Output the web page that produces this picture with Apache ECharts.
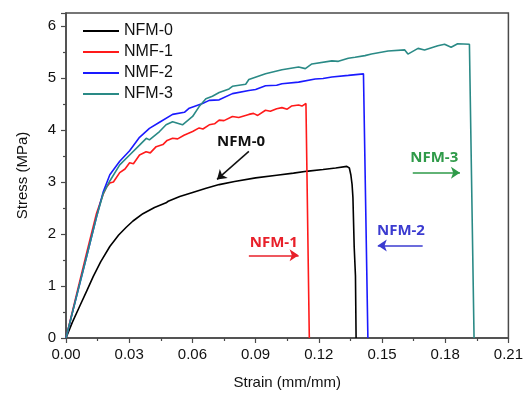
<!DOCTYPE html>
<html>
<head>
<meta charset="utf-8">
<script src="https://cdn.jsdelivr.net/npm/echarts@6/dist/echarts.min.js"></script>
<style>
    html, body { margin: 0; padding: 0; background: #fff; }
    #chart { width: 526px; height: 395px; }
</style>
</head>
<body>
<div id="chart"></div>
<script>
// stress-strain curves, [strain, stress]
var seriesNames = ['NFM-0', 'NMF-1', 'NMF-2', 'NFM-3'];
var seriesColors = ['#000000', '#ff1a1a', '#1a1aff', '#2a8a86'];

var nfm0 = [
    [0, 0], [0.003, 0.3], [0.0066, 0.62], [0.0098, 0.9], [0.0129, 1.18], [0.0165, 1.47],
    [0.0208, 1.76], [0.025, 1.98], [0.0286, 2.13], [0.0318, 2.25], [0.0365, 2.39], [0.042, 2.51],
    [0.0475, 2.6], [0.0485, 2.63], [0.054, 2.72], [0.0601, 2.8], [0.0665, 2.88], [0.0727, 2.95],
    [0.08, 3.01], [0.09, 3.08], [0.1, 3.13], [0.108, 3.17], [0.115, 3.21], [0.122, 3.24],
    [0.128, 3.27], [0.1333, 3.3], [0.1345, 3.27], [0.1352, 3.14], [0.1358, 2.95], [0.1362, 2.7],
    [0.1368, 1.75], [0.1374, 1.2], [0.1377, 0]
];
var nmf1 = [
    [0, 0], [0.005, 0.84], [0.01, 1.67], [0.0145, 2.4], [0.0176, 2.76], [0.0192, 2.9],
    [0.0208, 2.98], [0.0225, 3.0], [0.0255, 3.18], [0.028, 3.25], [0.0302, 3.37], [0.032, 3.35],
    [0.0349, 3.52], [0.038, 3.58], [0.04, 3.56], [0.0428, 3.68], [0.046, 3.72], [0.048, 3.8],
    [0.0506, 3.84], [0.053, 3.83], [0.056, 3.9], [0.0601, 3.97], [0.0632, 4.04], [0.065, 4.02],
    [0.068, 4.1], [0.0705, 4.12], [0.0727, 4.19], [0.075, 4.18], [0.079, 4.26], [0.082, 4.24],
    [0.0868, 4.3], [0.089, 4.32], [0.091, 4.28], [0.0947, 4.38], [0.097, 4.36], [0.1, 4.41],
    [0.1025, 4.43], [0.105, 4.4], [0.107, 4.46], [0.1104, 4.48], [0.112, 4.46], [0.1139, 4.51],
    [0.1155, 0]
];
var nmf2 = [
    [0, 0], [0.005, 0.8], [0.01, 1.6], [0.0145, 2.33], [0.0176, 2.8], [0.0208, 3.14],
    [0.0255, 3.4], [0.0302, 3.6], [0.0349, 3.86], [0.0396, 4.03], [0.0444, 4.15], [0.0506, 4.3],
    [0.0562, 4.34], [0.0585, 4.42], [0.0648, 4.51], [0.068, 4.57], [0.0727, 4.58], [0.079, 4.7],
    [0.0868, 4.76], [0.09, 4.78], [0.0947, 4.85], [0.1, 4.86], [0.1025, 4.89], [0.1104, 4.92],
    [0.1183, 4.98], [0.122, 4.99], [0.1262, 5.02], [0.134, 5.05], [0.1412, 5.08], [0.1433, 0]
];
var nfm3 = [
    [0, 0], [0.005, 0.8], [0.01, 1.6], [0.0145, 2.33], [0.0176, 2.77], [0.0208, 3.02],
    [0.0255, 3.33], [0.0302, 3.52], [0.0349, 3.71], [0.0381, 3.84], [0.0396, 3.81], [0.0444, 3.97],
    [0.0475, 4.1], [0.0506, 4.16], [0.0553, 4.1], [0.0601, 4.26], [0.0632, 4.45], [0.0664, 4.6],
    [0.0695, 4.65], [0.0727, 4.72], [0.0774, 4.79], [0.079, 4.84], [0.0853, 4.88], [0.0868, 4.97],
    [0.0947, 5.08], [0.1025, 5.16], [0.1104, 5.21], [0.1136, 5.18], [0.1167, 5.27], [0.1262, 5.33],
    [0.1293, 5.32], [0.134, 5.38], [0.1372, 5.4], [0.1419, 5.43], [0.145, 5.46], [0.1529, 5.52],
    [0.1608, 5.54], [0.1623, 5.46], [0.1671, 5.57], [0.1702, 5.54], [0.1765, 5.62], [0.1797, 5.65],
    [0.1828, 5.59], [0.1859, 5.66], [0.1915, 5.65], [0.1937, 0]
];

// annotations: label text, label position, arrow start/end (data coords)
var annotText = ['NFM-0', 'NFM-1', 'NFM-2', 'NFM-3'];
var annotColors = ['#111111', '#e8202a', '#3b3bd0', '#2e9a48'];
var annotPos = [[0.0831, 3.78], [0.0986, 1.83], [0.159, 2.07], [0.1748, 3.47]];
var arrowFrom = [[0.0868, 3.59], [0.0868, 1.59], [0.1693, 1.78], [0.1646, 3.18]];
var arrowTo = [[0.0717, 3.05], [0.1104, 1.59], [0.148, 1.78], [0.187, 3.18]];

var xTicks = { min: 0, max: 0.21, interval: 0.03 };
var yTicks = { min: 0, max: 6.25, interval: 1 };

var chart = echarts.init(document.getElementById('chart'));

var curves = [nfm0, nmf1, nmf2, nfm3];
var series = [];
for (var i = 0; i < curves.length; i++) {
    series.push({
        name: seriesNames[i],
        type: 'line',
        data: curves[i],
        showSymbol: false,
        symbol: 'none',
        lineStyle: { color: seriesColors[i], width: 1.6 },
        itemStyle: { color: seriesColors[i] },
        z: 3
    });
}

// arrows
var arrowData = [];
for (var k = 0; k < arrowFrom.length; k++) {
    arrowData.push({
        coords: [arrowFrom[k], arrowTo[k]],
        lineStyle: { color: annotColors[k] }
    });
}
series.push({
    type: 'lines',
    coordinateSystem: 'cartesian2d',
    data: arrowData,
    symbol: ['none', 'arrow'],
    symbolSize: 9,
    lineStyle: { width: 1.5, opacity: 1, curveness: 0 },
    silent: true,
    z: 4
});

// annotation labels
var labelData = [];
for (var j = 0; j < annotText.length; j++) {
    labelData.push({
        value: annotPos[j],
        label: {
            show: true,
            position: 'inside',
            formatter: annotText[j],
            color: annotColors[j],
            opacity: 1,
            textBorderWidth: 0,
            textBorderColor: 'transparent',
            fontFamily: 'Open Sans',
            fontWeight: 'bold',
            fontSize: 15
        }
    });
}
series.push({
    type: 'scatter',
    data: labelData,
    symbolSize: 2,
    itemStyle: { color: 'rgba(0,0,0,0)' },
    silent: true,
    z: 5
});

var axisColor = '#4a4a4a';
var option = {
    animation: false,
    backgroundColor: '#ffffff',
    grid: {
        left: 66, right: 15, top: 13, bottom: 53,
        show: true,
        borderColor: axisColor,
        borderWidth: 1.5
    },
    legend: {
        data: seriesNames,
        orient: 'vertical',
        left: 82, top: 23,
        padding: 0,
        itemWidth: 36,
        itemHeight: 14,
        itemGap: 5,
        itemStyle: { opacity: 0 },
        textStyle: { fontFamily: 'Liberation Sans', fontSize: 16, color: '#111' }
    },
    xAxis: {
        type: 'value',
        min: xTicks.min, max: xTicks.max, interval: xTicks.interval,
        name: 'Strain (mm/mm)',
        nameLocation: 'middle',
        nameGap: 37,
        nameTextStyle: { fontFamily: 'Liberation Sans', fontSize: 15, color: '#111' },
        axisLine: { lineStyle: { color: axisColor, width: 1.5 } },
        axisTick: { inside: false, length: 5, lineStyle: { color: axisColor, width: 1.2 } },
        minorTick: { show: true, splitNumber: 2, length: 3, lineStyle: { color: axisColor, width: 1.2 } },
        splitLine: { show: false },
        axisLabel: {
            margin: 9,
            fontFamily: 'Liberation Sans', fontSize: 15, color: '#111',
            formatter: function (v) { return v.toFixed(2); }
        }
    },
    yAxis: {
        type: 'value',
        min: yTicks.min, max: yTicks.max, interval: yTicks.interval,
        name: 'Stress (MPa)',
        nameLocation: 'middle',
        nameGap: 36,
        nameTextStyle: { fontFamily: 'Liberation Sans', fontSize: 15, color: '#111' },
        axisLine: { show: true, lineStyle: { color: axisColor, width: 1.5 } },
        axisTick: { show: true, inside: false, length: 5, lineStyle: { color: axisColor, width: 1.2 } },
        minorTick: { show: true, splitNumber: 2, length: 3, lineStyle: { color: axisColor, width: 1.2 } },
        splitLine: { show: false },
        axisLabel: {
            margin: 10, showMaxLabel: false,
            fontFamily: 'Liberation Sans', fontSize: 15, color: '#111'
        }
    },
    series: series
};
chart.setOption(option);
</script>
</body>
</html>
